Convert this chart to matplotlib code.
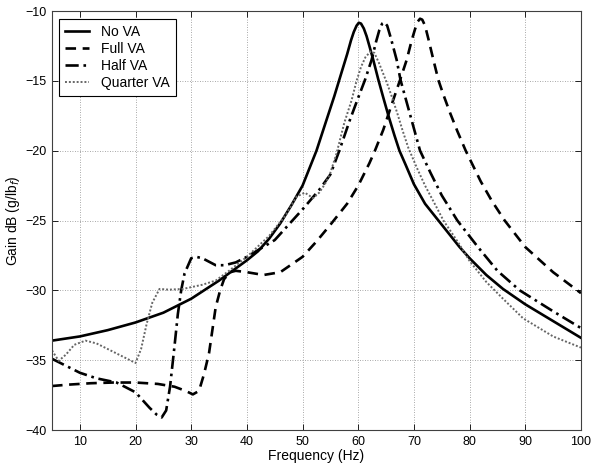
import matplotlib
matplotlib.use("Agg")
import matplotlib.pyplot as plt

# Frequency response data (Hz, dB)
no_va_f = [5, 10, 15, 20, 25, 30, 35, 40, 42, 44, 46, 48, 50, 52.5, 54.3, 55.7,
           57, 58, 58.7, 59.2, 59.7, 60.1, 60.5, 61, 61.5, 62, 62.7, 63.6,
           64.5, 65.5, 66.5, 67.4, 68.5, 70, 72, 74, 76, 78.2, 80, 83, 86, 90,
           95, 100]
no_va_g = [-33.6, -33.3, -32.85, -32.3, -31.6, -30.6, -29.3, -27.85, -27.2,
           -26.3, -25.2, -23.9, -22.5, -20.0, -17.8, -16.1, -14.4, -13.1,
           -12.1, -11.5, -11.05, -10.84, -10.9, -11.25, -11.8, -12.5, -13.5,
           -14.9, -16.2, -17.6, -18.9, -20.0, -21.0, -22.4, -23.8, -24.8,
           -25.8, -26.9, -27.7, -28.9, -29.9, -31.0, -32.2, -33.4]

full_va_f = [5, 8, 12, 16, 20, 24, 27, 29, 30.3, 31.4, 32.3, 33.2, 34.4, 35.2,
             35.9, 37, 38, 40, 43, 46, 50, 52.5, 55, 58, 60, 62, 63, 64.5, 66,
             67.5, 68.7, 69.6, 70.2, 70.7, 71.1, 71.5, 72, 72.6, 73.5, 74.4,
             75.3, 76.5, 77.8, 79.3, 82, 84, 86.3, 90, 95, 100]
full_va_g = [-36.85, -36.75, -36.65, -36.6, -36.6, -36.7, -36.9, -37.2,
             -37.45, -37.2, -36.0, -34.5, -31.2, -30.0, -29.2, -28.7, -28.6,
             -28.7, -28.9, -28.7, -27.6, -26.5, -25.3, -23.8, -22.5, -20.9,
             -20.0, -18.5, -16.7, -14.95, -13.5, -12.1, -11.3, -10.75, -10.55,
             -10.62, -11.05, -12.0, -13.5, -14.95, -16.0, -17.3, -18.6, -20.0,
             -22.2, -23.6, -25.0, -26.9, -28.7, -30.2]

half_va_f = [5, 7, 10, 13, 16.6, 20, 22.5, 23.8, 24.7, 25.5, 26.2, 27, 27.6,
             28.2, 28.8, 30, 30.9, 32, 34.4, 36, 38, 40, 45, 50, 53, 55, 56.6,
             58.5, 60, 61.2, 62.4, 63.2, 63.8, 64.3, 64.7, 65.2, 65.9, 66.9,
             67.6, 69.3, 71.1, 73, 75, 77.8, 81.5, 85, 89, 95, 100]
half_va_g = [-34.9, -35.3, -35.9, -36.3, -36.6, -37.3, -38.4, -38.9, -39.1,
             -38.6, -36.9, -34.0, -31.7, -30.0, -28.8, -27.7, -27.6, -27.7,
             -28.2, -28.2, -28.0, -27.6, -26.4, -24.2, -22.8, -21.7, -20.0,
             -17.8, -16.2, -14.95, -13.5, -12.2, -11.35, -10.9, -10.8, -11.05,
             -12.0, -13.5, -14.95, -17.4, -20.0, -21.6, -23.2, -25.0, -26.9,
             -28.6, -30.0, -31.5, -32.7]

quarter_va_f = [5, 6.2, 7.5, 9, 11, 13, 15, 17, 19, 20, 21, 22, 23, 24.3, 26,
                28.5, 32, 34.4, 36.8, 40, 44, 47, 48.9, 50.4, 51.9, 53, 54,
                54.9, 56.1, 57.5, 58.8, 59.7, 60.5, 61.3, 62.2, 62.9, 63.7,
                64.5, 65.2, 66, 67, 68, 69, 70.5, 72, 74, 75.3, 78, 80, 83, 86,
                89.6, 95, 100]
quarter_va_g = [-34.3, -35.05, -34.6, -33.9, -33.6, -33.8, -34.2, -34.6, -35.0,
                -35.2, -34.2, -32.4, -30.9, -29.9, -29.95, -29.9, -29.6, -29.3,
                -28.6, -27.6, -26.1, -24.6, -23.3, -23.0, -23.4, -23.0, -22.4,
                -21.7, -20.2, -18.0, -16.4, -15.0, -14.0, -13.3, -12.9, -13.0,
                -13.7, -14.5, -15.2, -16.1, -17.3, -18.6, -19.8, -21.2, -22.5,
                -24.0, -25.0, -26.6, -27.9, -29.4, -30.6, -32.0, -33.3, -34.1]

x_ticks = [10, 20, 30, 40, 50, 60, 70, 80, 90, 100]
y_ticks = [-40, -35, -30, -25, -20, -15, -10]

plt.rcParams["font.family"] = ["Liberation Sans", "DejaVu Sans"]
plt.rcParams["font.size"] = 9

fig = plt.figure(figsize=(5.91, 4.67), dpi=100)
ax = fig.add_axes([0.088, 0.0792, 0.895, 0.8972])

ax.plot(no_va_f, no_va_g, color="black", lw=1.9, ls="-", label="No VA")
ax.plot(full_va_f, full_va_g, color="black", lw=1.9, ls=(0, (4, 2.5)), label="Full VA")
ax.plot(half_va_f, half_va_g, color="black", lw=1.9, ls=(0, (5, 1.8, 1, 1.8)), label="Half VA")
ax.plot(quarter_va_f, quarter_va_g, color="0.4", lw=1.4, ls=(0, (1, 1)), label="Quarter VA")

ax.set_xlim(5, 100)
ax.set_ylim(-40, -10)
ax.set_xticks(x_ticks)
ax.set_yticks(y_ticks)
ax.grid(True, ls=(0, (1, 2)), lw=0.6, color="0.55")
ax.tick_params(direction="in", top=True, right=True, length=4, width=0.6, pad=4)
for s in ax.spines.values():
    s.set_linewidth(0.8)
    s.set_color("0.25")

ax.set_xlabel("Frequency (Hz)", fontsize=10, labelpad=1)
ax.set_ylabel("Gain dB (g/lb$_f$)", fontsize=10, labelpad=2)

leg = ax.legend(loc="upper left", bbox_to_anchor=(0.0132, 0.981), borderaxespad=0,
                fancybox=False, edgecolor="black", framealpha=1, fontsize=10,
                handlelength=1.7, handletextpad=0.9, labelspacing=0.2,
                borderpad=0.45)
leg.get_frame().set_linewidth(0.8)

fig.savefig("out.png", dpi=100)
